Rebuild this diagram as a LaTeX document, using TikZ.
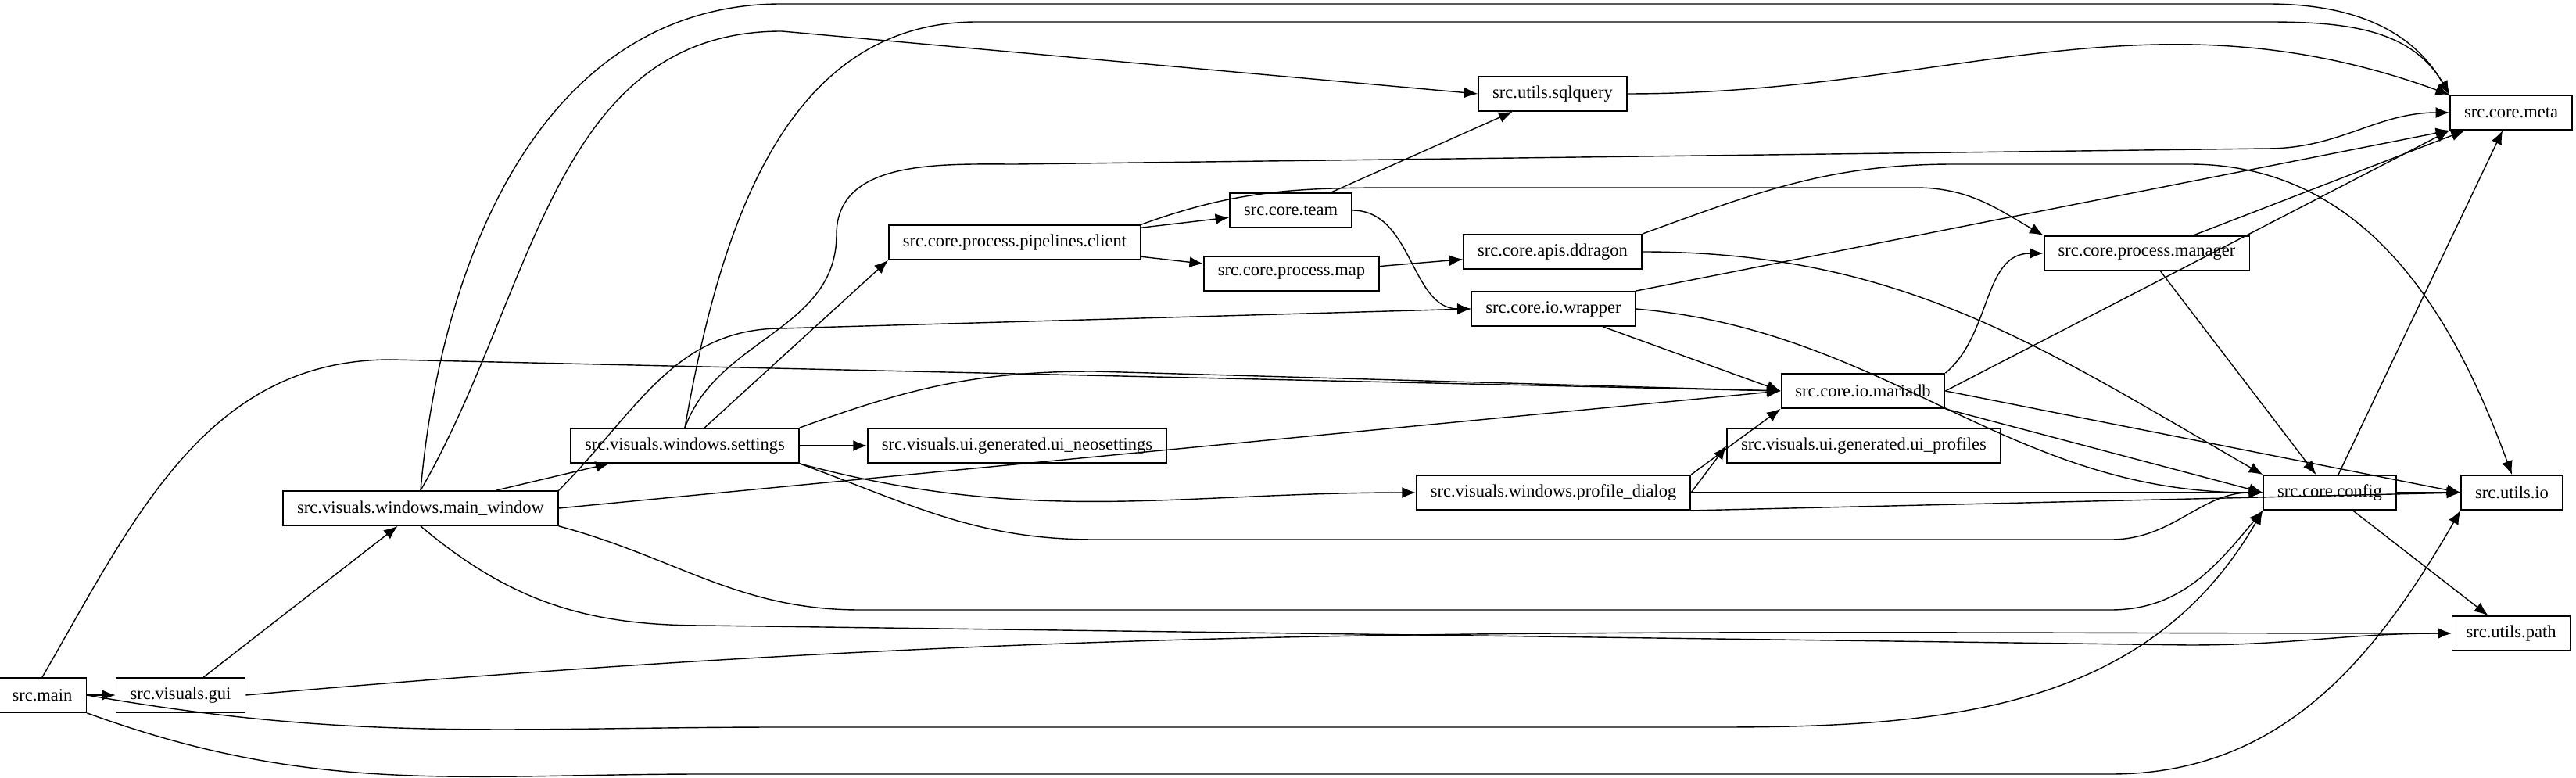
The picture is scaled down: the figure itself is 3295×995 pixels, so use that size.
\documentclass[tikz,border=0pt]{standalone}
\usepackage{fontspec}
\setmainfont{Liberation Serif}
\usetikzlibrary{arrows.meta}

\tikzset{
  mod/.style={draw, rectangle, line width=0.5pt, minimum height=0.44cm, inner xsep=0.18cm, font=\fontsize{6.4}{8}\selectfont},
  dep/.style={-{Latex[length=5pt,width=4pt]}, line width=0.4pt},
}

\begin{document}
\begin{tikzpicture}[x=0.01cm, y=-0.01cm]
\useasboundingbox (0,0) rectangle (3295,995);

\node[mod] (main) at (54, 889) {src.main};
\node[mod] (gui) at (231, 889) {src.visuals.gui};
\node[mod] (mainwin) at (538, 650) {src.visuals.windows.main\_window};
\node[mod] (settings) at (876, 570) {src.visuals.windows.settings};
\node[mod] (neo) at (1301, 570) {src.visuals.ui.generated.ui\_neosettings};
\node[mod] (pipe) at (1298, 310) {src.core.process.pipelines.client};
\node[mod] (team) at (1651, 269) {src.core.team};
\node[mod] (pmap) at (1652, 350) {src.core.process.map};
\node[mod] (sql) at (1986, 120) {src.utils.sqlquery};
\node[mod] (ddragon) at (1986, 322) {src.core.apis.ddragon};
\node[mod] (wrapper) at (1987, 395) {src.core.io.wrapper};
\node[mod] (maria) at (2383, 500) {src.core.io.mariadb};
\node[mod] (profiles) at (2384, 570) {src.visuals.ui.generated.ui\_profiles};
\node[mod] (dialog) at (1987, 630) {src.visuals.windows.profile\_dialog};
\node[mod] (manager) at (2746, 324) {src.core.process.manager};
\node[mod] (meta) at (3212, 144) {src.core.meta};
\node[mod] (config) at (2980, 630) {src.core.config};
\node[mod] (uio) at (3213, 630) {src.utils.io};
\node[mod] (upath) at (3212, 810) {src.utils.path};

% src.main
\draw[dep] (main) -- (gui);
\draw[dep] (main.north) to[out=60, in=180] (500,460) -- (maria.west);
\draw[dep] (main.east) to[out=-10, in=180] (1000,930) -- (2200,930) to[out=0, in=-120] (config.south west);
\draw[dep] (main.south east) to[out=-20, in=180] (900,990) -- (2700,990) to[out=0, in=-120] (uio.south west);

% src.visuals.gui
\draw[dep] (gui) -- (mainwin);
\draw[dep] (gui.east) to[out=5, in=180] (upath.west);

% main_window
\draw[dep] (mainwin) -- (settings);
\draw[dep] (mainwin.north) to[out=85, in=180] (1000,5) -- (2900,5) to[out=0, in=120] (meta.north west);
\draw[dep] (mainwin.north) to[out=60, in=180] (1000,40) -- (sql.west);
\draw[dep] (mainwin.north east) to[out=45, in=180] (1000,420) -- (wrapper.west);
\draw[dep] (mainwin.east) -- (maria.west);
\draw[dep] (mainwin.south east) to[out=-15, in=180] (1100,780) -- (2700,780) to[out=0, in=-130] (config.south west);
\draw[dep] (mainwin.south) to[out=-40, in=180] (900,800) -- (2800,825) to[out=0, in=180] (upath.west);

% settings
\draw[dep] (settings) -- (neo);
\draw[dep] (settings) -- (pipe.south west);
\draw[dep] (settings.north east) to[out=20, in=180] (1400,475) -- (maria.west);
\draw[dep] (settings.south east) to[out=-15, in=180] (dialog.west);
\draw[dep] (settings.south east) to[out=-20, in=180] (1400,690) -- (2700,690) to[out=0, in=180] (config.west);
\draw[dep] (settings.north) to[out=80, in=180] (1250,28) -- (2900,28) to[out=0, in=120] (meta.north west);
\draw[dep] (settings.north) to[out=70, in=-90] (1070,300) to[out=90, in=180] (1300,210) -- (2900,190) to[out=0, in=180] (meta.west);

% pipelines.client
\draw[dep] (pipe) -- (team);
\draw[dep] (pipe) -- (pmap);
\draw[dep] (pipe.north east) to[out=20, in=180] (1800,240) -- (2450,240) to[out=0, in=150] (manager.north west);

% team, map
\draw[dep] (team) -- (sql);
\draw[dep] (team.east) to[out=0, in=180] (wrapper.west);
\draw[dep] (pmap) -- (ddragon);

% ddragon
\draw[dep] (ddragon.north east) to[out=20, in=180] (2500,210) -- (2800,210) to[out=0, in=110] (uio.north);
\draw[dep] (ddragon.east) to[out=0, in=150] (config.north west);

% wrapper
\draw[dep] (wrapper.north east) -- (meta.south west);
\draw[dep] (wrapper) -- (maria.west);
\draw[dep] (wrapper.east) to[out=-5, in=180] (config.west);

% mariadb
\draw[dep] (maria.north east) to[out=40, in=180] (manager.west);
\draw[dep] (maria.east) -- (meta.south west);
\draw[dep] (maria.south east) -- (config.west);
\draw[dep] (maria.east) -- (uio.west);

% profile_dialog
\draw[dep] (dialog.north east) -- (maria.south west);
\draw[dep] (dialog.east) -- (profiles.west);
\draw[dep] (dialog.east) -- (config.west);
\draw[dep] (dialog.south east) -- (uio.west);

% manager, sqlquery, config
\draw[dep] (manager) -- (meta);
\draw[dep] (manager) -- (config);
\draw[dep] (sql.east) to[out=0, in=160] (meta.north west);
\draw[dep] (config) -- (meta);
\draw[dep] (config) -- (uio);
\draw[dep] (config) -- (upath);

\end{tikzpicture}
\end{document}
